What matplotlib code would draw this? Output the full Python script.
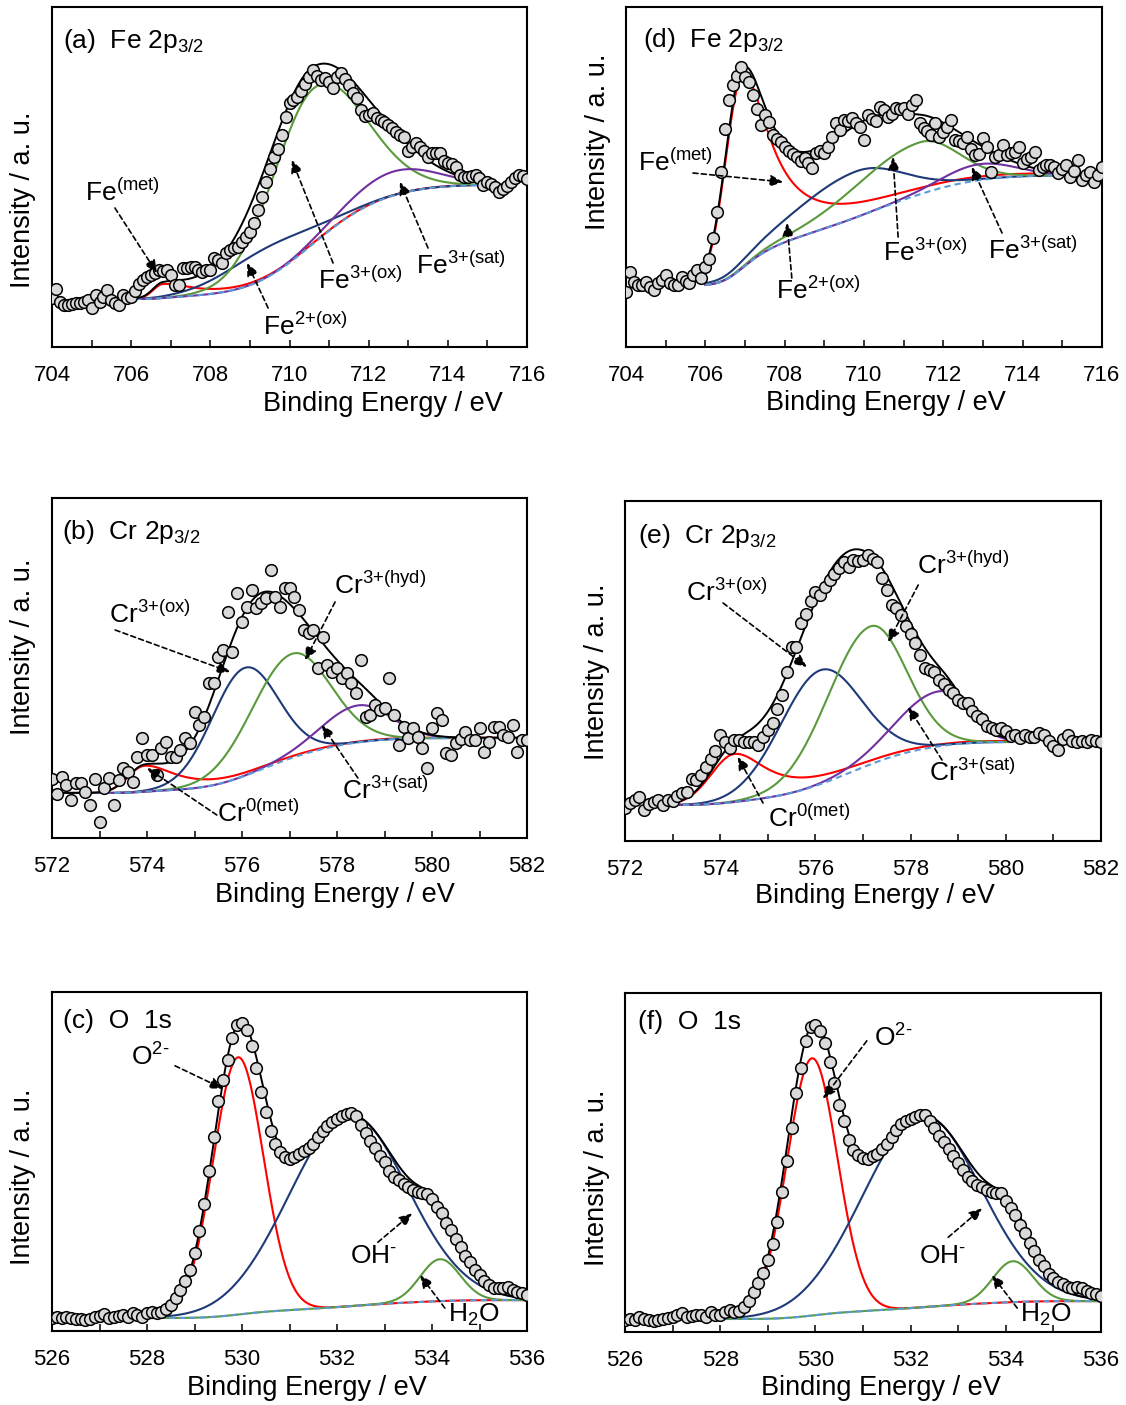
import numpy as np
import matplotlib
matplotlib.use('Agg')
import matplotlib.pyplot as plt

plt.rcParams['font.family'] = ['Liberation Sans', 'DejaVu Sans']
plt.rcParams['mathtext.fontset'] = 'custom'
plt.rcParams['mathtext.rm'] = 'Liberation Sans'
plt.rcParams['mathtext.it'] = 'Liberation Sans:italic'
plt.rcParams['mathtext.bf'] = 'Liberation Sans:bold'

# binding energy grids (0.1 eV steps)
E_FE = np.round(np.arange(704.0, 716.05, 0.1), 1)
E_CR = np.round(np.arange(572.0, 582.05, 0.1), 1)
E_O = np.round(np.arange(526.0, 536.05, 0.1), 1)

# measured intensities (a.u.)
fe_a_counts = [49, 58, 45, 42, 42, 43, 44, 44, 45, 47,
               39, 52, 45, 50, 57, 47, 44, 42, 52, 49,
               50, 56, 63, 67, 70, 72, 74, 77, 76, 77,
               72, 62, 62, 79, 79, 80, 80, 77, 75, 77,
               77, 89, 87, 84, 94, 97, 99, 100, 105, 110,
               115, 124, 137, 150, 165, 178, 190, 198, 212, 230,
               244, 247, 250, 256, 263, 270, 277, 271, 267, 269,
               265, 259, 270, 274, 268, 262, 254, 249, 237, 231,
               232, 234, 229, 227, 225, 222, 219, 215, 212, 210,
               196, 200, 204, 200, 196, 190, 194, 194, 194, 186,
               184, 183, 180, 172, 170, 170, 171, 172, 169, 162,
               165, 163, 160, 155, 158, 161, 165, 169, 172, 171,
               168]
fe_d_counts = [55, 75, 65, 62, 62, 65, 60, 57, 64, 67,
               72, 64, 62, 62, 70, 66, 64, 72, 77, 69,
               80, 88, 109, 135, 175, 218, 247, 262, 271, 280,
               270, 265, 252, 238, 222, 232, 225, 212, 208, 205,
               200, 196, 193, 190, 186, 189, 184, 179, 194, 196,
               194, 200, 210, 224, 217, 227, 226, 229, 224, 220,
               207, 232, 228, 226, 240, 237, 230, 233, 239, 238,
               239, 233, 242, 247, 224, 219, 216, 212, 224, 210,
               215, 220, 227, 207, 206, 204, 210, 198, 192, 193,
               209, 200, 175, 190, 192, 202, 192, 194, 195, 200,
               184, 188, 190, 195, 177, 180, 182, 182, 180, 174,
               178, 182, 170, 176, 187, 167, 172, 175, 165, 172,
               180]
cr_b_counts = [59, 44, 61, 53, 38, 55, 55, 46, 33, 59,
               16, 50, 60, 33, 58, 70, 66, 56, 81, 100,
               83, 83, 63, 90, 96, 81, 81, 88, 100, 95,
               126, 113, 121, 155, 155, 181, 188, 226, 186, 245,
               216, 231, 248, 230, 235, 240, 268, 241, 231, 250,
               250, 241, 228, 208, 205, 208, 170, 201, 173, 166,
               170, 160, 165, 155, 145, 178, 121, 123, 133, 128,
               130, 160, 123, 93, 111, 100, 110, 101, 90, 70,
               110, 125, 118, 85, 83, 95, 99, 106, 98, 98,
               110, 86, 96, 111, 111, 103, 101, 113, 86, 98,
               98]
cr_e_counts = [33, 38, 41, 44, 31, 37, 39, 41, 36, 41,
               40, 45, 48, 49, 62, 61, 66, 74, 82, 90,
               106, 99, 93, 101, 101, 99, 99, 99, 96, 104,
               111, 118, 132, 146, 169, 194, 194, 218, 227, 240,
               249, 246, 254, 261, 267, 273, 279, 274, 281, 280,
               281, 286, 282, 279, 263, 251, 236, 233, 226, 215,
               207, 198, 186, 173, 171, 169, 161, 157, 151, 148,
               141, 138, 138, 130, 125, 122, 115, 113, 111, 113,
               110, 105, 106, 103, 106, 104, 104, 108, 106, 100,
               95, 91, 102, 106, 100, 99, 100, 99, 101, 100,
               99]
o_c_counts = [13, 14, 13, 14, 13, 12, 12, 11, 12, 14,
              15, 17, 13, 14, 15, 16, 14, 18, 16, 14,
              18, 19, 18, 19, 22, 26, 33, 41, 50, 61,
              78, 100, 127, 160, 195, 231, 252, 272, 294, 307,
              309, 302, 286, 264, 240, 220, 201, 188, 180, 175,
              173, 175, 178, 181, 184, 188, 195, 201, 206, 210,
              213, 216, 218, 219, 216, 207, 199, 191, 184, 176,
              170, 160, 154, 151, 147, 144, 141, 139, 138, 137,
              132, 124, 118, 108, 101, 92, 84, 75, 69, 61,
              56, 50, 46, 43, 43, 43, 44, 41, 39, 38,
              36]
o_f_counts = [12, 13, 12, 15, 13, 12, 11, 12, 13, 14,
              15, 17, 19, 15, 16, 17, 17, 15, 20, 17,
              17, 20, 22, 20, 21, 25, 31, 40, 49, 59,
              72, 88, 110, 140, 172, 205, 240, 265, 292, 306,
              308, 302, 290, 271, 250, 228, 212, 193, 183, 178,
              175, 174, 177, 179, 184, 189, 196, 203, 209, 212,
              214, 216, 218, 218, 212, 205, 197, 191, 184, 177,
              169, 162, 155, 151, 147, 145, 142, 140, 139, 139,
              131, 124, 117, 107, 99, 89, 81, 72, 66, 58,
              54, 50, 48, 45, 44, 45, 44, 41, 39, 38,
              36]

# fitted components: centre (eV), height, left width, right width, lorentzian tail
fe_a_center = [706.8, 709.4, 710.6, 712.6]
fe_a_height = [14, 30, 155, 24]
fe_a_wl = [0.25, 1.1, 1.05, 1.1]
fe_a_wr = [0.9, 1.1, 1.25, 1.1]
fe_a_tail = [1, 0, 0, 0]
fe_a_bg = [48, 162]
fe_a_range = [706.1, 714.9]

fe_d_center = [706.92, 709.8, 711.4, 712.9]
fe_d_height = [192, 46, 52, 16]
fe_d_wl = [0.42, 1.5, 1.6, 0.9]
fe_d_wr = [0.83, 1.15, 0.95, 0.9]
fe_d_tail = [1, 0, 0, 0]
fe_d_bg = [62, 172]
fe_d_range = [706.0, 716.0]

cr_b_center = [573.95, 576.05, 577.05, 578.45]
cr_b_height = [26, 108, 104, 37]
cr_b_wl = [0.35, 0.7, 0.85, 0.77]
cr_b_wr = [0.8, 0.7, 0.8, 0.67]
cr_b_tail = [1, 0, 0, 0]
cr_b_bg = [45, 100]
cr_b_range = [572.0, 582.0]

cr_e_center = [574.3, 576.1, 577.15, 578.6]
cr_e_height = [48, 114, 138, 55]
cr_e_wl = [0.5, 0.85, 0.9, 0.9]
cr_e_wr = [0.85, 0.85, 0.75, 0.58]
cr_e_tail = [1, 0, 0, 0]
cr_e_bg = [36, 99]
cr_e_range = [573.0, 580.1]

o_c_center = [529.92, 532.25, 534.17]
o_c_height = [258, 192, 42]
o_c_wl = [0.53, 1.25, 0.42]
o_c_wr = [0.53, 1.22, 0.42]
o_c_tail = [0, 0, 0]
o_c_bg = [13, 31]
o_c_range = [527.8, 536.0]

o_f_center = [529.93, 532.25, 534.15]
o_f_height = [258, 192, 41]
o_f_wl = [0.53, 1.25, 0.42]
o_f_wr = [0.53, 1.22, 0.42]
o_f_tail = [0, 0, 0]
o_f_bg = [13, 31]
o_f_range = [527.8, 536.0]

RED = '#ff0000'
NAVY = '#1f3a78'
GREEN = '#5a9a3c'
PURPLE = '#7030a0'
BGBLUE = '#5b9bd5'
fe_colors = [RED, NAVY, GREEN, PURPLE]
cr_colors = [RED, NAVY, GREEN, PURPLE]
o_colors = [RED, NAVY, GREEN]


def peak(e, c, h, wl, wr, tail):
    d = e - c
    left = h * np.exp(-d**2 / (2 * wl**2))
    if tail:
        right = h / (1 + (d / wr)**2)
    else:
        right = h * np.exp(-d**2 / (2 * wr**2))
    return np.where(d < 0, left, right)


def draw(ax, energy, counts, center, height, wl, wr, tail, bg_ends, rng, colors):
    e = np.linspace(rng[0], rng[1], 800)
    peaks = [peak(e, *p) for p in zip(center, height, wl, wr, tail)]
    total = np.sum(peaks, axis=0)
    cum = np.cumsum(total)
    bg = bg_ends[0] + (bg_ends[1] - bg_ends[0]) * cum / cum[-1]
    for p, col in zip(peaks, colors):
        ax.plot(e, bg + p, color=col, lw=1.5, zorder=2)
    ax.plot(e, bg, color=BGBLUE, lw=1.5, ls=(0, (3, 2)), zorder=3)
    ax.plot(e, bg + total, color='k', lw=1.4, zorder=4)
    ax.plot(energy, counts, 'o', ms=8.4, mfc='#d9d9d9', mec='k', mew=1.1, zorder=5)


def style(ax, xlim, title, tpos, ylab_pos, xlab_pos):
    ax.set_xlim(xlim)
    ax.set_ylim(0, 340)
    ax.set_yticks([])
    ax.set_xticks(np.arange(xlim[0], xlim[1] + 1, 2))
    ax.set_xticks(np.arange(xlim[0], xlim[1] + 1, 1), minor=True)
    ax.tick_params(axis='x', which='both', direction='in', length=5, width=1.1,
                   labelsize=16, pad=13)
    for s in ax.spines.values():
        s.set_linewidth(1.5)
    ax.set_xlabel('Binding Energy / eV', fontsize=19.5, va='center')
    ax.xaxis.set_label_coords(*xlab_pos)
    ax.set_ylabel('Intensity / a. u.', fontsize=19.5, va='center', ha='center')
    ax.yaxis.set_label_coords(*ylab_pos)
    ax.text(tpos[0], tpos[1], title, transform=ax.transAxes, fontsize=19, va='baseline')


def labels(ax, items):
    for txt, pos, tail, head in items:
        ax.annotate('', xy=head, xytext=tail,
                    arrowprops=dict(arrowstyle='-|>,head_length=0.55,head_width=0.25',
                                    color='k', lw=1.2, ls=(0, (3, 2)),
                                    shrinkA=0, shrinkB=0, mutation_scale=14), zorder=6)
        ax.text(pos[0], pos[1], txt, ha='center', va='center', fontsize=19, zorder=6)


fig = plt.figure(figsize=(11.26, 14.05), dpi=100)


def add_axes(box):
    l, t, r, b = box
    return fig.add_axes([l / 1126, 1 - b / 1405, (r - l) / 1126, (b - t) / 1405])


# (a) Fe 2p3/2
ax = add_axes((52, 7, 527, 347))
draw(ax, E_FE, fe_a_counts, fe_a_center, fe_a_height, fe_a_wl, fe_a_wr, fe_a_tail,
     fe_a_bg, fe_a_range, fe_colors)
style(ax, (704, 716), r'(a)  Fe 2p$_{3/2}$', (0.023, 0.879), (-0.061, 0.432), (0.697, -0.168))
labels(ax, [
    (r'Fe$^{\text{(met)}}$', (705.77, 155), (705.59, 139), (706.65, 74)),
    (r'Fe$^{\text{2+(ox)}}$', (710.39, 21), (709.46, 39), (708.93, 84)),
    (r'Fe$^{\text{3+(ox)}}$', (711.78, 67), (711.10, 84), (710.06, 187)),
    (r'Fe$^{\text{3+(sat)}}$', (714.33, 82), (713.50, 99), (712.79, 165)),
])

# (d) Fe 2p3/2
ax = add_axes((626, 7, 1102, 347))
draw(ax, E_FE, fe_d_counts, fe_d_center, fe_d_height, fe_d_wl, fe_d_wr, fe_d_tail,
     fe_d_bg, fe_d_range, fe_colors)
style(ax, (704, 716), r'(d)  Fe 2p$_{3/2}$', (0.036, 0.882), (-0.059, 0.603), (0.546, -0.165))
labels(ax, [
    (r'Fe$^{\text{(met)}}$', (705.26, 185), (705.69, 174), (707.96, 165)),
    (r'Fe$^{\text{2+(ox)}}$', (708.84, 57), (708.18, 69), (708.06, 124)),
    (r'Fe$^{\text{3+(ox)}}$', (711.54, 95), (710.86, 110), (710.73, 190)),
    (r'Fe$^{\text{3+(sat)}}$', (714.26, 97), (713.48, 114), (712.72, 180)),
])

# (b) Cr 2p3/2
ax = add_axes((52, 498, 527, 838))
draw(ax, E_CR, cr_b_counts, cr_b_center, cr_b_height, cr_b_wl, cr_b_wr, cr_b_tail,
     cr_b_bg, cr_b_range, cr_colors)
style(ax, (572, 582), r'(b)  Cr 2p$_{3/2}$', (0.021, 0.879), (-0.061, 0.562), (0.596, -0.168))
labels(ax, [
    (r'Cr$^{\text{3+(ox)}}$', (574.06, 224), (573.33, 208), (575.75, 166)),
    (r'Cr$^{\text{0(met)}}$', (576.34, 25), (575.47, 23), (574.0, 70)),
    (r'Cr$^{\text{3+(hyd)}}$', (578.91, 253), (577.96, 236), (577.33, 178)),
    (r'Cr$^{\text{3+(sat)}}$', (579.03, 48), (578.44, 60), (577.68, 113)),
])

# (e) Cr 2p3/2
ax = add_axes((625, 501, 1101, 841))
draw(ax, E_CR, cr_e_counts, cr_e_center, cr_e_height, cr_e_wl, cr_e_wr, cr_e_tail,
     cr_e_bg, cr_e_range, cr_colors)
style(ax, (572, 582), r'(e)  Cr 2p$_{3/2}$', (0.027, 0.876), (-0.059, 0.497), (0.525, -0.162))
labels(ax, [
    (r'Cr$^{\text{3+(ox)}}$', (574.14, 249), (574.06, 238), (575.82, 174)),
    (r'Cr$^{\text{0(met)}}$', (575.87, 23), (574.90, 38), (574.37, 84)),
    (r'Cr$^{\text{3+(hyd)}}$', (579.10, 276), (578.16, 256), (577.53, 199)),
    (r'Cr$^{\text{3+(sat)}}$', (579.29, 69), (578.66, 81), (577.95, 134)),
])

# (c) O 1s
ax = add_axes((52, 992, 527, 1331))
draw(ax, E_O, o_c_counts, o_c_center, o_c_height, o_c_wl, o_c_wr, o_c_tail,
     o_c_bg, o_c_range, o_colors)
style(ax, (526, 536), '(c)  O  1s', (0.023, 0.894), (-0.061, 0.454), (0.537, -0.168))
labels(ax, [
    (r'O$^{\text{2-}}$', (528.06, 275), (528.59, 266), (529.60, 243)),
    (r'OH$^{\text{-}}$', (532.76, 75), (532.86, 89), (533.58, 118)),
    (r'H$_{\mathrm{2}}$O', (534.88, 16), (534.27, 23), (533.75, 56)),
])

# (f) O 1s
ax = add_axes((625, 993, 1101, 1332))
draw(ax, E_O, o_f_counts, o_f_center, o_f_height, o_f_wl, o_f_wr, o_f_tail,
     o_f_bg, o_f_range, o_colors)
style(ax, (526, 536), '(f)  O  1s', (0.027, 0.894), (-0.059, 0.454), (0.538, -0.165))
labels(ax, [
    (r'O$^{\text{2-}}$', (531.63, 295), (531.08, 292), (530.16, 234)),
    (r'OH$^{\text{-}}$', (532.68, 76), (532.79, 95), (533.50, 124)),
    (r'H$_{\mathrm{2}}$O', (534.84, 17), (534.24, 24), (533.71, 57)),
])

fig.savefig('out.png', dpi=100)
